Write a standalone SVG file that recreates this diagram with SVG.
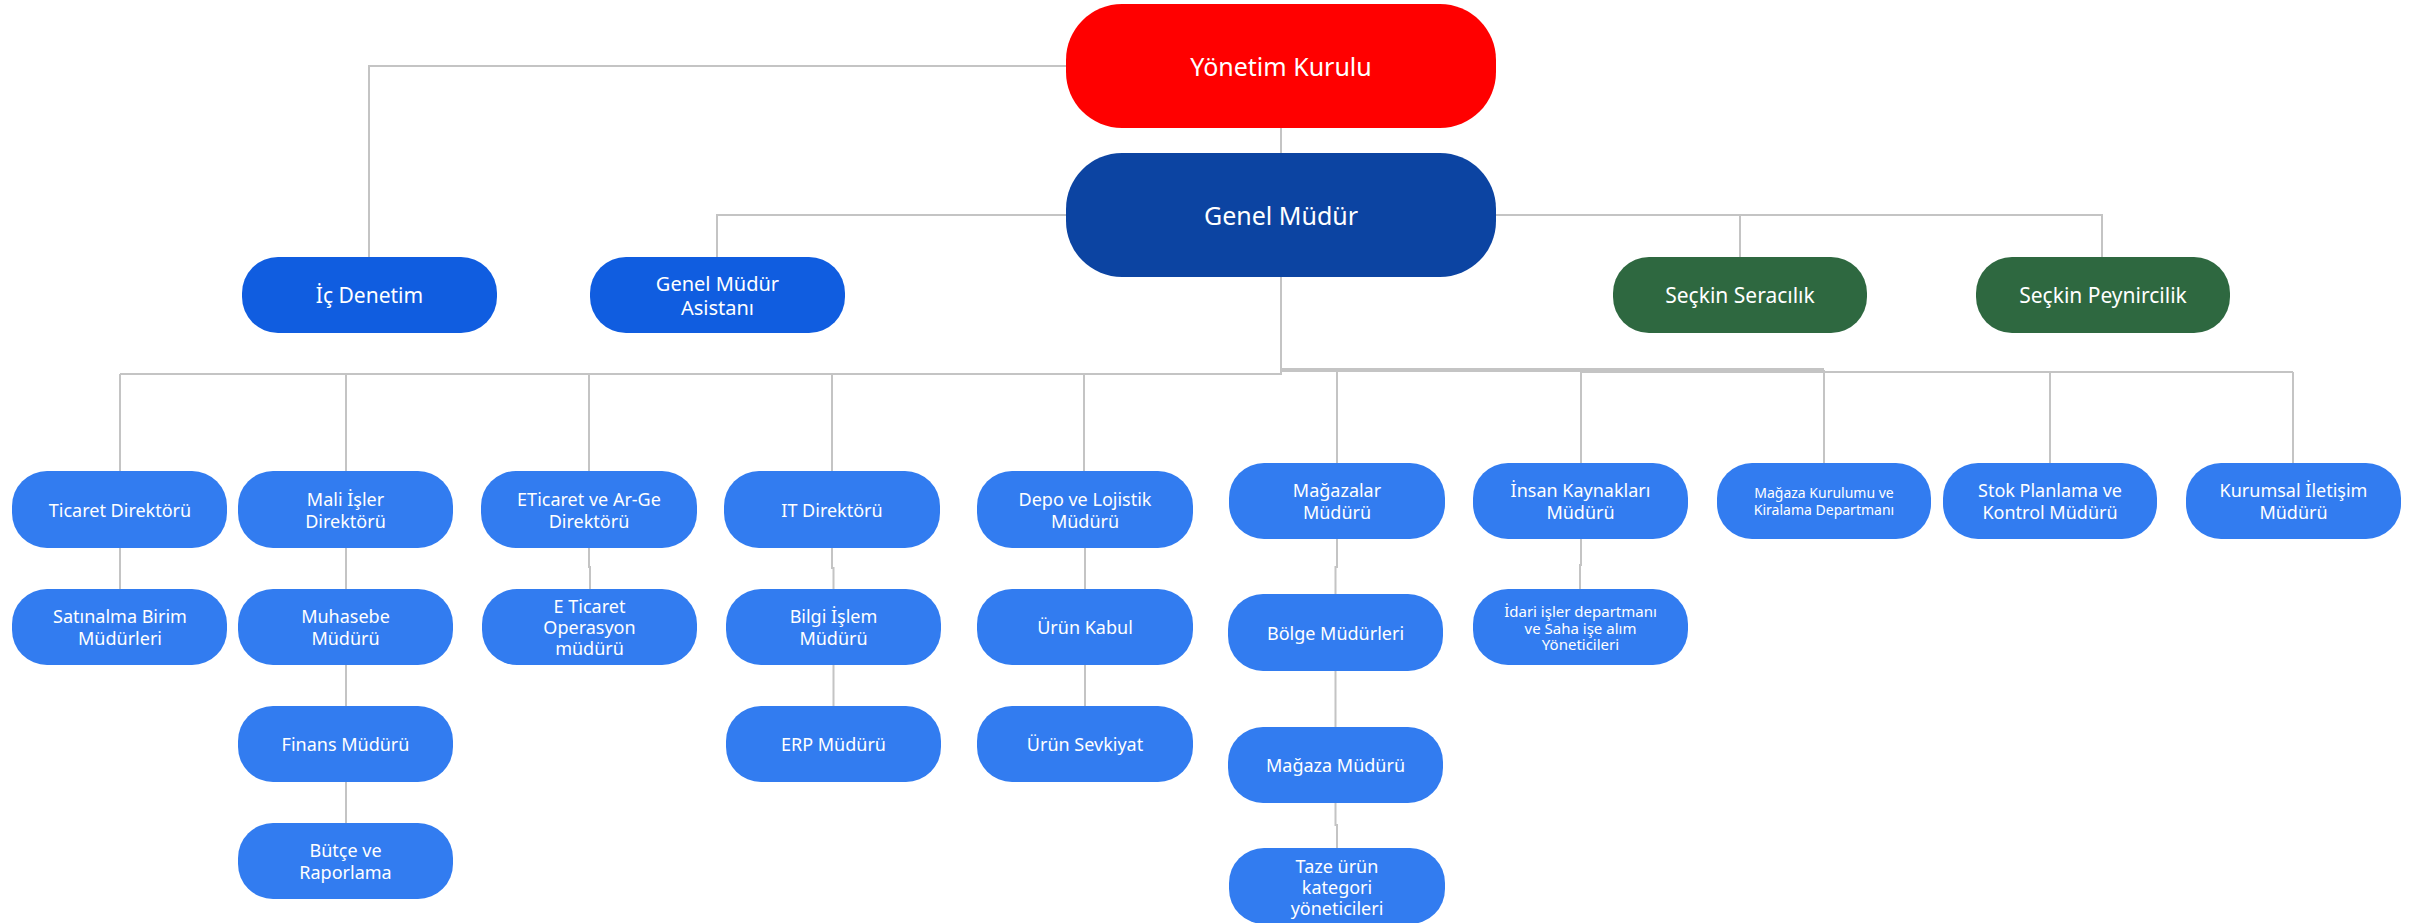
<svg xmlns="http://www.w3.org/2000/svg" width="2420" height="923" viewBox="0 0 2420 923">
<style>
.n rect{stroke:none}
.lb{fill:#327CF0}
.mb{fill:#105DE0}
.db{fill:#0C44A2}
.rd{fill:#FF0000}
.gr{fill:#2E6840}
text{font-family:"Noto Sans","Open Sans","DejaVu Sans",sans-serif;fill:#FFFFFF;text-anchor:middle}
.t25{font-size:25px}
.t21{font-size:21px}
.t20{font-size:20px}
.t18{font-size:18px}
.t15{font-size:15px}
.t14{font-size:14px}
#connectors path{fill:none;stroke:#C4C4C4;stroke-width:2}
</style>
<rect width="2420" height="923" fill="#FFFFFF"/>
<g id="connectors">
<path d="M1066 66 H369 V257"/>
<path d="M1281 128 V153"/>
<path d="M1066 215 H717 V257"/>
<path d="M1496 215 H2102 V257"/>
<path d="M1740 215 V257"/>
<path d="M1281 277 V374 H120"/>
<path d="M1281 370 H1824" style="stroke-width:4"/>
<path d="M1581 372 H2293"/>
<path d="M120 374 V471"/>
<path d="M346 374 V471"/>
<path d="M589 374 V471"/>
<path d="M832 374 V471"/>
<path d="M1084 374 V471"/>
<path d="M1337 372 V463"/>
<path d="M1581 372 V463"/>
<path d="M1824 370 V463"/>
<path d="M2050 372 V463"/>
<path d="M2293 372 V463"/>
<path d="M120 548 V589"/>
<path d="M346 548 V706"/>
<path d="M346 782 V823"/>
<path d="M589 548 V567 H590 V589"/>
<path d="M832 548 V568 H833.5 V706"/>
<path d="M1085 548 V706"/>
<path d="M1337 539 V567 H1335.5 V727"/>
<path d="M1335.5 803 V825 H1337 V848"/>
<path d="M1581 539 V565 H1580 V589"/>
</g>
<g id="yonetim-kurulu" class="n"><rect class="rd" x="1066" y="4" width="430" height="124" rx="56"/><text class="t25" x="1281" y="76">Yönetim Kurulu</text></g>
<g id="genel-mudur" class="n"><rect class="db" x="1066" y="153" width="430" height="124" rx="56"/><text class="t25" x="1281" y="225">Genel Müdür</text></g>
<g id="ic-denetim" class="n"><rect class="mb" x="242" y="257" width="255" height="76" rx="36"/><text class="t21" x="369.5" y="303">İç Denetim</text></g>
<g id="gm-asistani" class="n"><rect class="mb" x="590" y="257" width="255" height="76" rx="36"/><text class="t20" x="717.5" y="291">Genel Müdür<tspan x="717.5" dy="24">Asistanı</tspan></text></g>
<g id="seckin-seracilik" class="n"><rect class="gr" x="1613" y="257" width="254" height="76" rx="36"/><text class="t21" x="1740" y="303">Seçkin Seracılık</text></g>
<g id="seckin-peynircilik" class="n"><rect class="gr" x="1976" y="257" width="254" height="76" rx="36"/><text class="t21" x="2103" y="303">Seçkin Peynircilik</text></g>

<g id="ticaret-direktoru" class="n"><rect class="lb" x="12" y="471" width="215" height="77" rx="35"/><text class="t18" x="120" y="517">Ticaret Direktörü</text></g>
<g id="mali-isler" class="n"><rect class="lb" x="238" y="471" width="215" height="77" rx="35"/><text class="t18" x="345.5" y="505.5">Mali İşler<tspan x="345.5" dy="22">Direktörü</tspan></text></g>
<g id="eticaret-arge" class="n"><rect class="lb" x="481" y="471" width="216" height="77" rx="35"/><text class="t18" x="589" y="505.5">ETicaret ve Ar-Ge<tspan x="589" dy="22">Direktörü</tspan></text></g>
<g id="it-direktoru" class="n"><rect class="lb" x="724" y="471" width="216" height="77" rx="35"/><text class="t18" x="832" y="517">IT Direktörü</text></g>
<g id="depo-lojistik" class="n"><rect class="lb" x="977" y="471" width="216" height="77" rx="35"/><text class="t18" x="1085" y="505.5">Depo ve Lojistik<tspan x="1085" dy="22">Müdürü</tspan></text></g>
<g id="magazalar" class="n"><rect class="lb" x="1229" y="463" width="216" height="76" rx="35"/><text class="t18" x="1337" y="497">Mağazalar<tspan x="1337" dy="22">Müdürü</tspan></text></g>
<g id="insan-kaynaklari" class="n"><rect class="lb" x="1473" y="463" width="215" height="76" rx="35"/><text class="t18" x="1580.5" y="497">İnsan Kaynakları<tspan x="1580.5" dy="22">Müdürü</tspan></text></g>
<g id="magaza-kurulumu" class="n"><rect class="lb" x="1717" y="463" width="214" height="76" rx="35"/><text class="t14" x="1824" y="498">Mağaza Kurulumu ve<tspan x="1824" dy="17">Kiralama Departmanı</tspan></text></g>
<g id="stok-planlama" class="n"><rect class="lb" x="1943" y="463" width="214" height="76" rx="35"/><text class="t18" x="2050" y="497">Stok Planlama ve<tspan x="2050" dy="22">Kontrol Müdürü</tspan></text></g>
<g id="kurumsal-iletisim" class="n"><rect class="lb" x="2186" y="463" width="215" height="76" rx="35"/><text class="t18" x="2293.5" y="497">Kurumsal İletişim<tspan x="2293.5" dy="22">Müdürü</tspan></text></g>

<g id="satinalma" class="n"><rect class="lb" x="12" y="589" width="215" height="76" rx="35"/><text class="t18" x="120" y="622.5">Satınalma Birim<tspan x="120" dy="22">Müdürleri</tspan></text></g>
<g id="muhasebe" class="n"><rect class="lb" x="238" y="589" width="215" height="76" rx="35"/><text class="t18" x="345.5" y="622.5">Muhasebe<tspan x="345.5" dy="22">Müdürü</tspan></text></g>
<g id="eticaret-operasyon" class="n"><rect class="lb" x="482" y="589" width="215" height="76" rx="35"/><text class="t18" x="589.5" y="613">E Ticaret<tspan x="589.5" dy="21">Operasyon</tspan><tspan x="589.5" dy="21">müdürü</tspan></text></g>
<g id="bilgi-islem" class="n"><rect class="lb" x="726" y="589" width="215" height="76" rx="35"/><text class="t18" x="833.5" y="622.5">Bilgi İşlem<tspan x="833.5" dy="22">Müdürü</tspan></text></g>
<g id="urun-kabul" class="n"><rect class="lb" x="977" y="589" width="216" height="76" rx="35"/><text class="t18" x="1085" y="634">Ürün Kabul</text></g>
<g id="bolge-mudurleri" class="n"><rect class="lb" x="1228" y="594" width="215" height="77" rx="35"/><text class="t18" x="1335.5" y="639.5">Bölge Müdürleri</text></g>
<g id="idari-isler" class="n"><rect class="lb" x="1473" y="589" width="215" height="76" rx="35"/><text class="t15" x="1580.5" y="617">İdari işler departmanı<tspan x="1580.5" dy="16.5">ve Saha işe alım</tspan><tspan x="1580.5" dy="16.5">Yöneticileri</tspan></text></g>

<g id="finans" class="n"><rect class="lb" x="238" y="706" width="215" height="76" rx="35"/><text class="t18" x="345.5" y="751">Finans Müdürü</text></g>
<g id="erp" class="n"><rect class="lb" x="726" y="706" width="215" height="76" rx="35"/><text class="t18" x="833.5" y="751">ERP Müdürü</text></g>
<g id="urun-sevkiyat" class="n"><rect class="lb" x="977" y="706" width="216" height="76" rx="35"/><text class="t18" x="1085" y="751">Ürün Sevkiyat</text></g>
<g id="magaza-muduru" class="n"><rect class="lb" x="1228" y="727" width="215" height="76" rx="35"/><text class="t18" x="1335.5" y="772">Mağaza Müdürü</text></g>

<g id="butce" class="n"><rect class="lb" x="238" y="823" width="215" height="76" rx="35"/><text class="t18" x="345.5" y="857">Bütçe ve<tspan x="345.5" dy="22">Raporlama</tspan></text></g>
<g id="taze-urun" class="n"><rect class="lb" x="1229" y="848" width="216" height="76" rx="35"/><text class="t18" x="1337" y="873">Taze ürün<tspan x="1337" dy="21">kategori</tspan><tspan x="1337" dy="21">yöneticileri</tspan></text></g>
</svg>
